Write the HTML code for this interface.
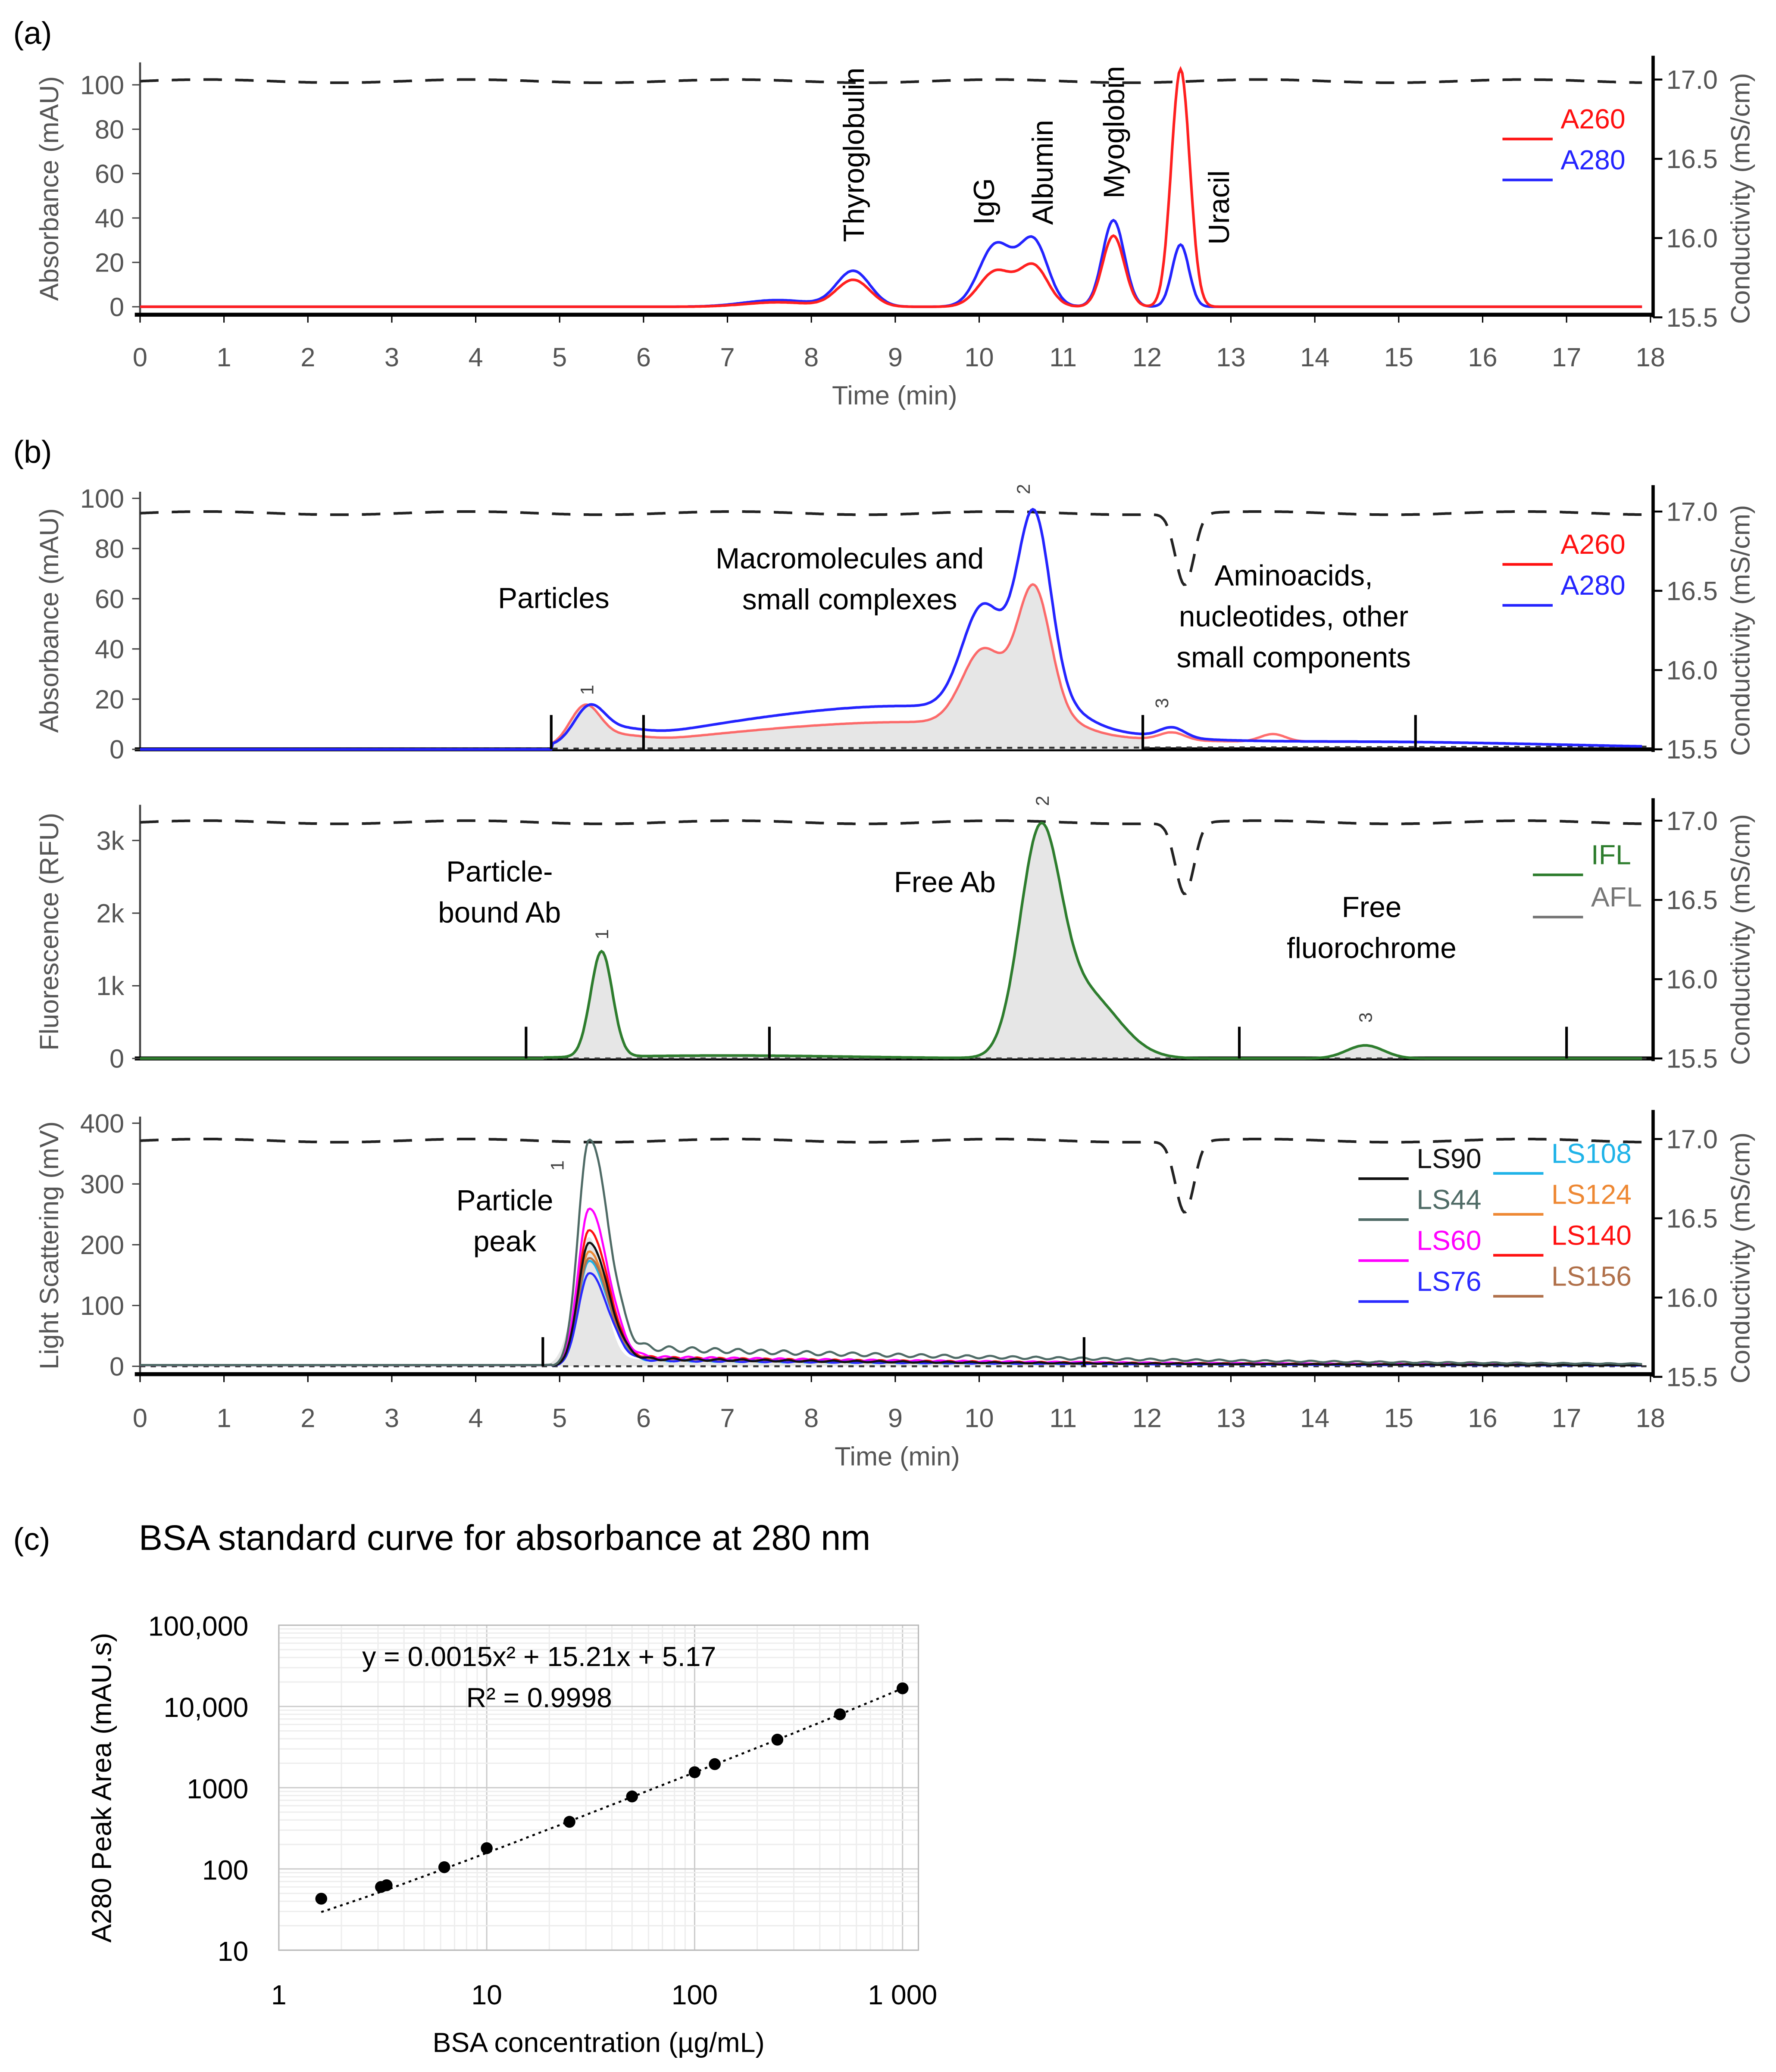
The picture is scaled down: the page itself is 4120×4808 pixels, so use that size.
<!DOCTYPE html>
<html><head><meta charset="utf-8">
<style>
html,body{margin:0;padding:0;background:#fff;}
svg{display:block;font-family:"Liberation Sans",sans-serif;}
</style></head>
<body>
<svg id="fig" width="4120" height="4808" viewBox="0 0 1344 1568" xmlns="http://www.w3.org/2000/svg"></svg>
<script>
// ---------- DATA ----------
// Panel (a): gaussian peaks [center(min), height(mAU), width(min)]
const aA260Peaks = [[7.6,2,0.4],[8.5,12,0.2],[10.2,16,0.2],[10.65,18,0.17],[11.6,32,0.13],[12.4,107,0.11]];
const aA280Peaks = [[7.6,3,0.4],[8.5,16,0.2],[10.2,28,0.2],[10.65,29,0.17],[11.6,39,0.13],[12.4,28,0.1]];
const aLabels = ["Thyroglobulin","IgG","Albumin","Myoglobin","Uracil"];
const aLabelTimes = [8.5,10.05,10.75,11.6,12.85];
// Panel (b1)
const b1A280Peaks = [[5.35,13,0.18],[5.7,4,0.3],[7.0,5,1.2],[9.3,16,1.6],[10.05,42,0.25],[10.65,78,0.2],[11.0,6,0.3],[12.3,4,0.15],[14.5,3,2.5]];
const b1A260Peaks = [[5.3,15,0.18],[5.7,3,0.3],[7.0,3,1.2],[9.3,10,1.6],[10.05,30,0.25],[10.65,54,0.2],[11.0,4,0.3],[12.3,3,0.15],[13.5,3,0.15],[14.5,3,2.5]];
const b1Markers = [4.9,6.0,11.95,15.2];
// Panel (b2)
const b2IFLPeaks = [[5.5,1450,0.13],[10.72,2850,0.24],[11.25,900,0.4],[14.6,180,0.22],[7,40,1.5]];
const b2Markers = [4.6,7.5,13.1,17.0];
// Panel (b3) light scattering
const lsNames = ["LS90","LS44","LS60","LS76","LS108","LS124","LS140","LS156"];
const lsColors = ["#111","#4f6b66","#ff00ff","#2a2aff","#1fb3e8","#ee8833","#ff1010","#b0704a"];
const lsPeak = [200,365,255,150,170,185,220,175];
const lsTail = [12,30,15,10,10,12,14,12];
const b3Markers = [4.8,11.25];
// Conductivity dip [center, depth mS/cm, width]
const condDip = [12.45,0.45,0.11];
// Panel (c)
const cConc = [1.6,3.1,3.3,6.25,10,25,50,100,125,250,500,1000];
const cArea = [43,60,63,105,180,380,780,1550,1950,3900,8000,16700];
const fitCoef = [0.0015,15.21,5.17];

// ---------- helpers ----------
const svg = document.getElementById('fig');
const NS = "http://www.w3.org/2000/svg";
function mk(tag, attrs, parent){const e=document.createElementNS(NS,tag);for(const k in attrs)e.setAttribute(k,attrs[k]);(parent||svg).appendChild(e);return e;}
function txt(s,x,y,size,fill,anchor,rot){const e=mk('text',{x:x,y:y,'font-size':size,fill:fill||'#000','text-anchor':anchor||'middle'});if(rot)e.setAttribute('transform','rotate('+rot+' '+x+' '+y+')');e.textContent=s;return e;}
function gsum(peaks,t){let v=0;for(const p of peaks)v+=p[1]*Math.exp(-((t-p[0])**2)/(2*p[2]*p[2]));return v;}
const X0=106, X1=1249;
function xs(t){return X0+(X1-X0)*t/18;}
function pathFrom(fn,yfn){let d='';for(let t=0;t<=17.9;t+=0.02){d+=(d?'L':'M')+xs(t).toFixed(1)+','+yfn(fn(t)).toFixed(1);}return d;}

function axesFrame(top,bot,yTicks,yfn,tickLbl,yTitle,condTop,condBot,name){
  let e;
  e=mk('line',{x1:X0,y1:top,x2:X0,y2:bot,stroke:'#444','stroke-width':1.5});
  
  
  e=mk('line',{x1:X0-4,y1:bot,x2:X1+2,y2:bot,stroke:'#000','stroke-width':3});
  
  
  e=mk('line',{x1:X1+2,y1:top-5,x2:X1+2,y2:bot+2,stroke:'#000','stroke-width':2.5});
  
  
  yTicks.forEach((v,i)=>{const y=yfn(v);mk('line',{x1:X0-6,y1:y,x2:X0,y2:y,stroke:'#444'});
    const l=txt(tickLbl[i],X0-12,y+7,20,'#555','end');
    
    });
  const yt=txt(yTitle,44,(top+bot)/2,20,'#555','middle',-90);
  
  
  const cv=[15.5,16.0,16.5,17.0];
  cv.forEach(c=>{const y=condBot+(condTop-condBot)*(c-15.5)/1.5;mk('line',{x1:X1+2,y1:y,x2:X1+9,y2:y,stroke:'#000','stroke-width':1.5});
    const l=txt(c.toFixed(1),X1+12,y+7,20,'#555','start');
    
    });
  const ct=txt('Conductivity (mS/cm)',1324,(condTop+condBot)/2,20,'#555','middle',-90);
  
  
}
function condLine(condTop,condBot,dip,name){
  const cy=c=>condBot+(condTop-condBot)*(c-15.5)/1.5;
  const e=mk('path',{d:pathFrom(t=>16.99-(dip?gsum([[condDip[0],condDip[1],condDip[2]]],t):0)+0.01*Math.sin(t*2),cy),fill:'none',stroke:'#222','stroke-width':2,'stroke-dasharray':'14,10'});
  
  
}
function xTicks(bot,labY,name){
  for(let i=0;i<=18;i++){const x=xs(i);mk('line',{x1:x,y1:bot,x2:x,y2:bot+6,stroke:'#000'});
    const l=txt(String(i),x,labY,20,'#555');
    
    }
}
function areaFill(fn,yfn,t0,t1,name){
  let d='M'+xs(t0)+','+yfn(0);
  for(let t=t0;t<=t1;t+=0.02)d+='L'+xs(t).toFixed(1)+','+yfn(fn(t)).toFixed(1);
  d+='L'+xs(t1)+','+yfn(0)+'Z';
  const e=mk('path',{d:d,fill:'#e6e6e6',stroke:'none'});
  
  
}
function markers(arr,yfn,h,name){arr.forEach(t=>{const e=mk('line',{x1:xs(t),y1:yfn(0),x2:xs(t),y2:yfn(0)-h,stroke:'#000','stroke-width':2});
  
  });}
function legendEntry(lbl,col,x,y,lineCol){
  const l=mk('line',{x1:x,y1:y+8,x2:x+38,y2:y+8,stroke:lineCol||col,'stroke-width':2});
  
  
  const t=txt(lbl,x+44,y,21,col,'start');
  
  
}

// ---------- Panel (a) ----------
let e;
e=txt('(a)',10,33,24,'#000','start');


const ya=v=>232-1.68*v;
axesFrame(47,238,[0,20,40,60,80,100],ya,['0','20','40','60','80','100'],'Absorbance (mAU)',60,240,'panel-a');
condLine(60,240,false,'panel-a');
e=mk('path',{d:pathFrom(t=>gsum(aA280Peaks,t),ya),fill:'none',stroke:'#2424ff','stroke-width':2});


e=mk('path',{d:pathFrom(t=>gsum(aA260Peaks,t),ya),fill:'none',stroke:'#ff2020','stroke-width':2});


aLabels.forEach((s,i)=>{const x=xs(aLabelTimes[i])+8;const y=(s==='Uracil')?185:(s==='Thyroglobulin'?183:(s==='Myoglobin'?150:170));
  const l=txt(s,x,y,22,'#000','start',-90);
  
  });
legendEntry('A260','#ff1010',1137,97);
legendEntry('A280','#2424ff',1137,128);
xTicks(238,277,'panel-a');
e=txt('Time (min)',677,306,20,'#555');



// ---------- Panel (b1) ----------
e=txt('(b)',10,350,24,'#000','start');


const yb1=v=>567-1.9*v;
axesFrame(372,567,[0,20,40,60,80,100],yb1,['0','20','40','60','80','100'],'Absorbance (mAU)',387,567,'panel-b1');
areaFill(t=>gsum(b1A260Peaks,t),yb1,4.9,11.95,'panel-b1-integrated-area');
e=mk('line',{x1:X0,y1:567,x2:X1,y2:565,stroke:'#333','stroke-width':1.5,'stroke-dasharray':'4,4'});


condLine(387,567,true,'panel-b1');
e=mk('path',{d:pathFrom(t=>t<4.9?0:gsum(b1A260Peaks,t),yb1),fill:'none',stroke:'#ff3030','stroke-width':1.8,'stroke-opacity':0.7});


e=mk('path',{d:pathFrom(t=>t<4.9?0:gsum(b1A280Peaks,t),yb1),fill:'none',stroke:'#2424ff','stroke-width':2});


markers(b1Markers,yb1,26,'panel-b1-peak-marker');
[['Particles',419,460],['Macromolecules and',643,430],['small complexes',643,461],['Aminoacids,',979,443],['nucleotides, other',979,474],['small components',979,505]].forEach(a=>{const l=txt(a[0],a[1],a[2],22);
  
  });
[['1',5.45,522],['2',10.65,370],['3',12.3,532]].forEach(a=>{const l=txt(a[0],xs(a[1])-3,a[2],14,'#444','middle',-90);
  
  });
legendEntry('A260','#ff1010',1137,419);
legendEntry('A280','#2424ff',1137,450);

// ---------- Panel (b2) ----------
const yb2=v=>801-0.055*v;
axesFrame(609,801,[0,1000,2000,3000],yb2,['0','1k','2k','3k'],'Fluorescence (RFU)',621,801,'panel-b2');
areaFill(t=>gsum(b2IFLPeaks,t),yb2,4.6,17.0,'panel-b2-integrated-area');
e=mk('line',{x1:X0,y1:801,x2:X1,y2:801,stroke:'#333','stroke-width':1.5,'stroke-dasharray':'4,4'});


condLine(621,801,true,'panel-b2');
e=mk('path',{d:pathFrom(t=>t<4.8?0:gsum(b2IFLPeaks,t),yb2),fill:'none',stroke:'#2e7d2e','stroke-width':2});


markers(b2Markers,yb2,24,'panel-b2-peak-marker');
[['Particle-',378,667],['bound Ab',378,698],['Free Ab',715,675],['Free',1038,694],['fluorochrome',1038,725]].forEach(a=>{const l=txt(a[0],a[1],a[2],22);
  
  });
[['1',5.5,707],['2',10.75,606],['3',14.6,770]].forEach(a=>{const l=txt(a[0],xs(a[1])+5,a[2],14,'#444','middle',-90);
  
  });
legendEntry('IFL','#2e7d2e',1160,654);
legendEntry('AFL','#777',1160,686);

// ---------- Panel (b3) ----------
const yb3=v=>1034-0.46*v;
axesFrame(845,1040,[0,100,200,300,400],yb3,['0','100','200','300','400'],'Light Scattering (mV)',862,1042,'panel-b3');
areaFill(t=>lsPeak[0]*Math.exp(-((t-5.35)**2)/(2*0.17*0.17))+(t>5.3?lsTail[0]*Math.exp(-(t-5.5)/4):0),yb3,4.8,11.25,'panel-b3-integrated-area');
e=mk('line',{x1:X0,y1:1034,x2:X1,y2:1034,stroke:'#333','stroke-width':1.5,'stroke-dasharray':'4,4'});


condLine(862,1042,true,'panel-b3');
const order=[4,5,6,7,2,3,0,1];
order.forEach(i=>{
  const f=t=>(t<4.9?2:0)+lsPeak[i]*Math.exp(-((t-5.35)**2)/(2*(t<5.35?0.13:0.22)**2))+(t>5.2?lsTail[i]*Math.exp(-Math.max(0,t-6)/6)*Math.min(1,(t-5.2)*2)*(1+0.15*Math.sin(t*23+i)):0);
  const p=mk('path',{d:pathFrom(f,yb3),fill:'none',stroke:lsColors[i],'stroke-width':1.6});
  
  
});
markers(b3Markers,yb3,22,'panel-b3-peak-marker');
[['Particle',382,916],['peak',382,947]].forEach(a=>{const l=txt(a[0],a[1],a[2],22);
  
  });
e=txt('1',xs(5.0)+3,882,14,'#444','middle',-90);


lsNames.forEach((n,i)=>{const col=i<4?0:1;const row=i%4;legendEntry(n,lsColors[i],col?1130:1028,(col?880:884)+row*31,lsColors[i]);});
xTicks(1040,1080,'panel-b3');
e=txt('Time (min)',679,1109,20,'#555');



// ---------- Panel (c) ----------
e=txt('(c)',10,1173,24,'#000','start');


e=txt('BSA standard curve for absorbance at 280 nm',105,1173,27,'#000','start');


const CX0=211,CX1=683,BOXR=695,CY0=1476,CY1=1230;
const cx=v=>CX0+(CX1-CX0)*Math.log10(v)/3;
const cy=v=>CY0-(CY0-CY1)*(Math.log10(v)-1)/4;
for(let dec=0;dec<4;dec++)for(let k=1;k<10;k++){const v=Math.pow(10,dec)*k;const x=cx(v);if(x>BOXR)break;
  mk('line',{x1:x,y1:CY1,x2:x,y2:CY0,stroke:k===1?'#ccc':'#eee','stroke-width':1});}
for(let dec=1;dec<5;dec++)for(let k=1;k<10;k++){const v=Math.pow(10,dec)*k;const y=cy(v);
  mk('line',{x1:CX0,y1:y,x2:BOXR,y2:y,stroke:k===1?'#ccc':'#eee','stroke-width':1});}
e=mk('rect',{x:CX0,y:CY1,width:BOXR-CX0,height:CY0-CY1,fill:'none',stroke:'#bbb','stroke-width':1});


[[1,'1'],[10,'10'],[100,'100'],[1000,'1 000']].forEach(a=>{const l=txt(a[1],cx(a[0]),1517,21,'#000');
  
  });
[[10,'10'],[100,'100'],[1000,'1000'],[10000,'10,000'],[100000,'100,000']].forEach(a=>{const l=txt(a[1],188,cy(a[0])+8,21,'#000','end');
  
  });
e=txt('BSA concentration (µg/mL)',453,1553,21,'#000');


e=txt('A280 Peak Area (mAU.s)',84,1353,21,'#000','middle',-90);


let fd='';
for(let lv=Math.log10(cConc[0]);lv<=3.0001;lv+=0.02){const v=Math.pow(10,lv);const y=fitCoef[0]*v*v+fitCoef[1]*v+fitCoef[2];fd+=(fd?'L':'M')+cx(v).toFixed(1)+','+cy(y).toFixed(1);}
e=mk('path',{d:fd,fill:'none',stroke:'#000','stroke-width':1.5,'stroke-dasharray':'2,3'});


cConc.forEach((c,i)=>{const p=mk('circle',{cx:cx(c),cy:cy(cArea[i]),r:4.5,fill:'#000'});
  
  });
e=txt('y = 0.0015x² + 15.21x + 5.17',408,1261,21,'#000');


e=txt('R² = 0.9998',408,1292,21,'#000');


</script>
</body></html>
